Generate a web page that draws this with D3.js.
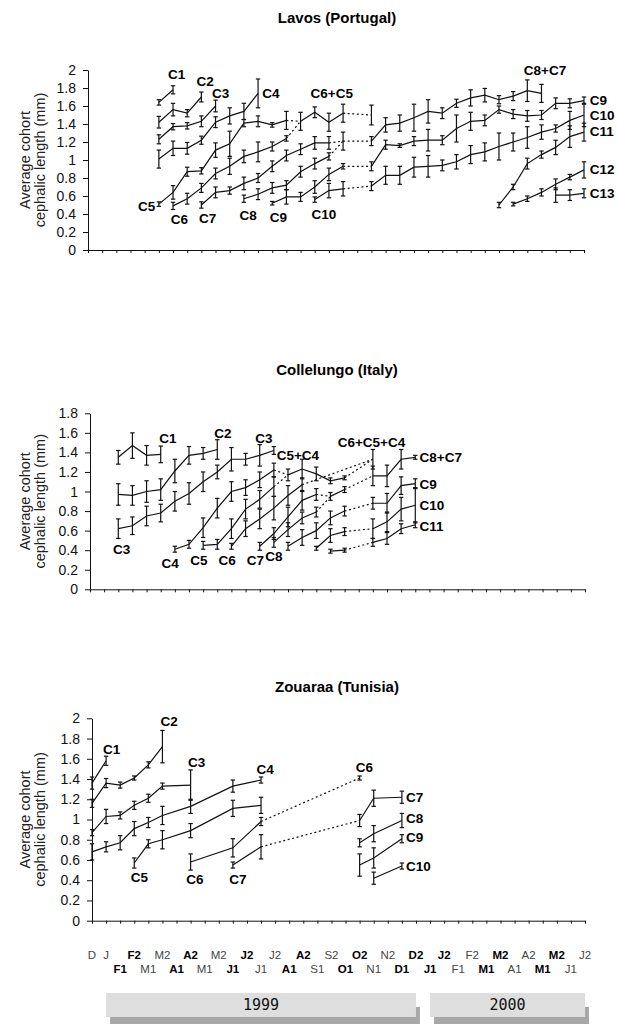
<!DOCTYPE html>
<html><head><meta charset="utf-8">
<script src="https://cdn.jsdelivr.net/npm/d3@7"></script>
<style>body{margin:0;background:#fff}svg{display:block}</style>
</head><body><svg id="c" width="617" height="1024"></svg>
<script>
// ---------- DATA ----------
// month labels along the shared time axis (index 0..35)
const months = ["D","J","F1","F2","M1","M2","A1","A2","M1","M2","J1","J2","J1","J2","A1","A2","S1","S2","O1","O2","N1","N2","D1","D2","J1","J2","F1","F2","M1","M2","A1","A2","M1","M2","J1","J2"];
const boldMonths = [2,3,6,7,10,11,14,15,18,19,22,23,24,25,28,29,32,33];
const years = [["1999",1,23],["2000",24,35]];

// series: [name, [[monthIndex, mean, sd, dottedFromPrevious?], ...]]
const lavosSeries = [
 ["C1",[[5,1.64,.03],[6,1.78,.045]]],
 ["C2",[[5,1.42,.065],[6,1.56,.07],[7,1.52,.04],[8,1.70,.055]]],
 ["C3",[[5,1.23,.05],[6,1.37,.035],[7,1.38,.035],[8,1.43,.06],[9,1.60,.065]]],
 ["C4",[[5,1.01,.1],[6,1.13,.08],[7,1.13,.065],[8,1.22,.045],[9,1.42,.06],[10,1.49,.09],[11,1.54,.09],[12,1.74,.16]]],
 ["C5",[[5,0.51,.025],[6,0.64,.075],[7,0.87,.05],[8,0.88,.035],[9,1.11,.08],[10,1.18,.14],[11,1.41,.04],[12,1.43,.06],[13,1.39,.025],[14,1.44,.1]]],
 ["C6",[[6,0.49,.04],[7,0.57,.06],[8,0.69,.05],[9,0.85,.06],[10,0.93,.09],[11,1.04,.07],[12,1.09,.11],[13,1.15,.05],[14,1.24,.03]]],
 ["C7",[[8,0.50,.035],[9,0.64,.06],[10,0.66,.04],[11,0.74,.07],[12,0.80,.05],[13,0.93,.06],[14,1.05,.06],[15,1.12,.06],[16,1.19,.07],[17,1.19,.07]]],
 ["C8",[[11,0.57,.04],[12,0.62,.06],[13,0.69,.06],[14,0.72,.05],[15,0.87,.06],[16,0.96,.06],[17,1.04,.04]]],
 ["C9",[[13,0.52,.02],[14,0.59,.08],[15,0.59,.05],[16,0.70,.07],[17,0.84,.07],[18,0.93,.03],[20,0.93,.05,1],[21,1.17,.05],[22,1.16,.02],[23,1.21,.05],[24,1.22,.12],[25,1.22,.05],[26,1.35,.15],[27,1.43,.1],[28,1.44,.06],[29,1.56,.04],[30,1.51,.05],[31,1.49,.06],[32,1.50,.05],[33,1.63,.06],[34,1.63,.05],[35,1.66,.04]]],
 ["C10",[[16,0.56,.03],[17,0.66,.08],[18,0.68,.08],[20,0.71,.05,1],[21,0.83,.1],[22,0.83,.1],[23,0.92,.11],[24,0.93,.12],[25,0.94,.06],[26,0.98,.08],[27,1.06,.1],[28,1.09,.1],[29,1.15,.15],[30,1.20,.1],[31,1.25,.12],[32,1.31,.08],[33,1.35,.04],[34,1.44,.1],[35,1.50,.13]]],
 ["C6+C5",[[15,1.43,.1],[16,1.53,.06],[17,1.42,.1],[18,1.52,.1],[20,1.50,.11,1]]],
 ["C8+C7",[[18,1.21,.1],[20,1.21,.05,1],[21,1.39,.08],[22,1.41,.09],[23,1.47,.15],[24,1.54,.13],[25,1.52,.06],[26,1.63,.045],[27,1.69,.09],[28,1.72,.075],[29,1.67,.045],[30,1.71,.05],[31,1.77,.12],[32,1.74,.1]]],
 ["C11",[[29,0.50,.03],[30,0.70,.03],[31,0.96,.06],[32,1.06,.04],[33,1.14,.08],[34,1.26,.12],[35,1.31,.1]]],
 ["C12",[[30,0.51,.02],[31,0.57,.03],[32,0.64,.04],[33,0.73,.06],[34,0.81,.03],[35,0.89,.09]]],
 ["C13",[[33,0.61,.08],[34,0.61,.06],[35,0.63,.05]]]
];
const lavosLinks = [["C5","C6+C5"],["C6","C6+C5"],["C7","C8+C7"],["C8","C8+C7"]];
const lavosLabels = [["C1",6.25,1.95],["C2",8.26,1.88],["C3",9.36,1.74],["C4",12.9,1.74],["C5",4.14,0.49],["C6",6.45,0.34],["C7",8.45,0.355],["C8",11.3,0.39],["C9",13.43,0.36],["C10",16.65,0.40],["C6+C5",17.2,1.74],["C8+C7",32.25,2.0],
 ["C9",35.4,1.67,"start"],["C10",35.4,1.50,"start"],["C11",35.4,1.32,"start"],["C12",35.4,0.90,"start"],["C13",35.4,0.63,"start"]];

const colleSeries = [
 ["C1",[[2,1.35,.07],[3,1.47,.13],[4,1.37,.1],[5,1.38,.085]]],
 ["C2",[[2,0.97,.11],[3,0.96,.1],[4,1.00,.11],[5,1.02,.11],[6,1.21,.12],[7,1.37,.09],[8,1.39,.06],[9,1.43,.1]]],
 ["C3",[[2,0.62,.1],[3,0.65,.09],[4,0.75,.1],[5,0.78,.09],[6,0.90,.1],[7,0.98,.11],[8,1.10,.1],[9,1.20,.07],[10,1.33,.12],[11,1.33,.06],[12,1.37,.11],[13,1.42,.04]]],
 ["C4",[[6,0.41,.03],[7,0.46,.04],[8,0.63,.1],[9,0.83,.1],[10,1.00,.1],[11,1.04,.08],[12,1.12,.08],[13,1.22,.07]]],
 ["C5",[[8,0.45,.04],[9,0.46,.05],[10,0.62,.1],[11,0.82,.1],[12,0.92,.09],[13,1.05,.1]]],
 ["C6",[[10,0.44,.03],[11,0.62,.08],[12,0.72,.1],[13,0.83,.12],[14,0.96,.1],[15,1.07,.07]]],
 ["C7",[[12,0.44,.04],[13,0.57,.06],[14,0.74,.1],[15,0.91,.1],[16,0.97,.06]]],
 ["C8",[[13,0.48,.05],[14,0.61,.07],[15,0.73,.06],[16,0.79,.05]]],
 ["C5+C4",[[14,1.17,.06],[15,1.23,.1],[16,1.18,.07],[17,1.11,.03],[18,1.14,.02]]],
 ["C8+C7",[[17,0.95,.04],[18,1.02,.03],[20,1.16,.1,1],[21,1.16,.11],[22,1.33,.1],[23,1.35,.02]]],
 ["C6+C5+C4",[[20,1.33,.1]]],
 ["C9",[[14,0.44,.04],[15,0.53,.08],[16,0.60,.08],[17,0.73,.07],[18,0.80,.05],[20,0.88,.06,1],[21,0.88,.1],[22,1.06,.09],[23,1.08,.05]]],
 ["C10",[[16,0.42,.02],[17,0.55,.07],[18,0.59,.04],[20,0.62,.1,1],[21,0.69,.1],[22,0.82,.12],[23,0.86,.18]]],
 ["C11",[[17,0.39,.02],[18,0.40,.02],[20,0.48,.04,1],[21,0.52,.06],[22,0.62,.05],[23,0.66,.03]]]
];
const colleLinks = [["C4","C5+C4"],["C5","C5+C4"],["C5+C4","C6+C5+C4"],["C6","C6+C5+C4"],["C7","C8+C7"],["C8","C8+C7"]];
const colleLabels = [["C1",5.5,1.55],["C2",9.4,1.6],["C3",12.3,1.55],["C5+C4",14.7,1.37],["C6+C5+C4",19.9,1.51],["C3",2.24,0.41],["C4",5.66,0.27],["C5",7.7,0.3],["C6",9.7,0.3],["C7",11.7,0.3],["C8",13.0,0.34],
 ["C8+C7",23.3,1.35,"start"],["C9",23.3,1.08,"start"],["C10",23.3,0.86,"start"],["C11",23.3,0.65,"start"]];

const zouSeries = [
 ["C1",[[0,1.36,.06],[1,1.58,.045]]],
 ["C2",[[0,1.16,.04],[1,1.36,.045],[2,1.34,.03],[3,1.41,.02],[4,1.54,.03],[5,1.72,.16]]],
 ["C3",[[0,0.87,.03],[1,1.03,.07],[2,1.04,.035],[3,1.14,.04],[4,1.21,.04],[5,1.33,.03],[7,1.34,.15]]],
 ["C4",[[0,0.68,.08],[1,0.73,.05],[2,0.77,.07],[3,0.91,.07],[4,0.97,.05],[5,1.04,.09],[7,1.13,.07],[10,1.33,.06],[12,1.39,.03]]],
 ["C5",[[3,0.57,.05],[4,0.76,.04],[5,0.80,.09],[7,0.89,.07],[10,1.11,.08],[12,1.14,.08]]],
 ["C6",[[7,0.58,.08],[10,0.72,.09],[12,0.98,.04],[19,1.41,.02,1]]],
 ["C7",[[10,0.55,.03],[12,0.73,.12],[19,0.99,.06,1],[20,1.21,.08],[22,1.22,.06]]],
 ["C8",[[19,0.77,.04],[20,0.86,.08],[22,0.99,.07]]],
 ["C9",[[19,0.55,.11],[20,0.62,.1],[22,0.81,.04]]],
 ["C10",[[20,0.42,.06],[22,0.54,.03]]]
];
const zouLinks = [];
const zouLabels = [["C1",1.4,1.70],["C2",5.47,1.97],["C3",7.43,1.57],["C4",12.3,1.50],["C5",3.36,0.43],["C6",7.31,0.41],["C7",10.36,0.41],["C6",19.33,1.515],
 ["C7",22.3,1.22,"start"],["C8",22.3,1.01,"start"],["C9",22.3,0.83,"start"],["C10",22.3,0.54,"start"]];

// ---------- LAYOUT ----------
const panels = [
 {title:"Lavos (Portugal)", series:lavosSeries, links:lavosLinks, labels:lavosLabels, yMax:2, xr:[88,584], yr:[250,70], titleY:23},
 {title:"Collelungo (Italy)", series:colleSeries, links:colleLinks, labels:colleLabels, yMax:1.8, xr:[90,585], yr:[589.3,413.3], titleY:375},
 {title:"Zouaraa (Tunisia)", series:zouSeries, links:zouLinks, labels:zouLabels, yMax:2, xr:[92,585], yr:[920.7,718.3], titleY:692}
];
const FONT = "'Liberation Sans', Arial, Helvetica, sans-serif";
const svg = d3.select("#c");
let lastX = null;

panels.forEach(p => {
  const x = d3.scaleLinear().domain([0,35]).range(p.xr);
  const y = d3.scaleLinear().domain([0,p.yMax]).range(p.yr);
  lastX = x;
  const g = svg.append("g");

  g.append("text").attr("x",337).attr("y",p.titleY).attr("text-anchor","middle")
   .attr("font-family",FONT).attr("font-weight","bold").attr("font-size",15).text(p.title);

  // y axis
  const ticks = d3.range(0, p.yMax+1e-9, 0.2).map(v=>+v.toFixed(1));
  const ya = g.append("g").attr("transform",`translate(${p.xr[0]},0)`)
    .call(d3.axisLeft(y).tickValues(ticks).tickSize(5).tickSizeOuter(0).tickPadding(7).tickFormat(d=>String(+d.toFixed(1))));
  ya.selectAll("text").attr("font-family",FONT).attr("font-size",14).attr("fill","#111");
  ya.selectAll("line,path").attr("stroke","#111");

  // x axis
  const xa = g.append("g").attr("transform",`translate(0,${p.yr[0]})`)
    .call(d3.axisBottom(x).tickValues(d3.range(0,36)).tickSize(3).tickSizeOuter(0).tickFormat(""));
  xa.selectAll("line,path").attr("stroke","#111");

  // y title
  const yc = (p.yr[0]+p.yr[1])/2;
  [["Average cohort",30],["cephalic length (mm)",45]].forEach(([t,bx])=>{
    g.append("text").attr("transform",`translate(${bx},${yc}) rotate(-90)`).attr("text-anchor","middle")
     .attr("font-family",FONT).attr("font-size",14.5).attr("fill","#222").text(t);
  });

  const line = d3.line().x(d=>x(d[0])).y(d=>y(d[1]));
  const byName = new Map(p.series.map(s=>[s[0],s[1]]));

  // dotted links between cohorts (merges)
  p.links.forEach(([a,b])=>{
    const pa = byName.get(a), pb = byName.get(b);
    g.append("path").attr("d", line([pa[pa.length-1], pb[0]]))
     .attr("fill","none").attr("stroke","#111").attr("stroke-width",1.2).attr("stroke-dasharray","2,2.6");
  });

  p.series.forEach(([name,pts])=>{
    let run=[pts[0]];
    for(let i=1;i<pts.length;i++){
      if(pts[i][3]===1){
        if(run.length>1) g.append("path").attr("d",line(run)).attr("fill","none").attr("stroke","#111").attr("stroke-width",1.2);
        g.append("path").attr("d",line([pts[i-1],pts[i]])).attr("fill","none").attr("stroke","#111").attr("stroke-width",1.2).attr("stroke-dasharray","2,2.6");
        run=[pts[i]];
      } else run.push(pts[i]);
    }
    if(run.length>1) g.append("path").attr("d",line(run)).attr("fill","none").attr("stroke","#111").attr("stroke-width",1.2);

    pts.forEach(d=>{
      const cx=x(d[0]), y1=y(d[1]-d[2]), y2=y(d[1]+d[2]);
      g.append("line").attr("x1",cx).attr("x2",cx).attr("y1",y1).attr("y2",y2).attr("stroke","#111").attr("stroke-width",1.2);
      [y1,y2].forEach(yy=>g.append("line").attr("x1",cx-2.2).attr("x2",cx+2.2).attr("y1",yy).attr("y2",yy).attr("stroke","#111").attr("stroke-width",1.2));
    });
  });

  p.labels.forEach(([t,i,v,anc])=>{
    g.append("text").attr("x",x(i)).attr("y",y(v)).attr("dy","0.36em")
     .attr("text-anchor",anc||"middle").attr("font-family",FONT).attr("font-weight","bold")
     .attr("font-size",13.5).attr("fill","#000").text(t);
  });
});

// month labels under the last panel
const x = lastX;
months.forEach((m,i)=>{
  const top = (i<2) || (i%2===1);
  const bold = boldMonths.includes(i);
  svg.append("text").attr("x",x(i)).attr("y", top?959:973).attr("text-anchor","middle")
    .attr("font-family",FONT).attr("font-size",11.5).attr("font-weight",bold?"bold":"normal")
    .attr("fill",bold?"#000":"#444").text(m);
});

// year boxes
years.forEach(([yr,a,b])=>{
  const x0=x(a), x1=x(b), top=993, h=24;
  svg.append("rect").attr("x",x0+4).attr("y",top+14).attr("width",x1-x0).attr("height",h).attr("fill","#a8a8a8");
  svg.append("rect").attr("x",x0).attr("y",top).attr("width",x1-x0).attr("height",h).attr("fill","#dedede");
  svg.append("text").attr("x",(x0+x1)/2).attr("y",top+h/2).attr("dy","0.36em").attr("text-anchor","middle")
    .attr("font-family","'DejaVu Sans Mono', monospace").attr("font-size",15).attr("fill","#111").text(yr);
});
</script></body></html>
